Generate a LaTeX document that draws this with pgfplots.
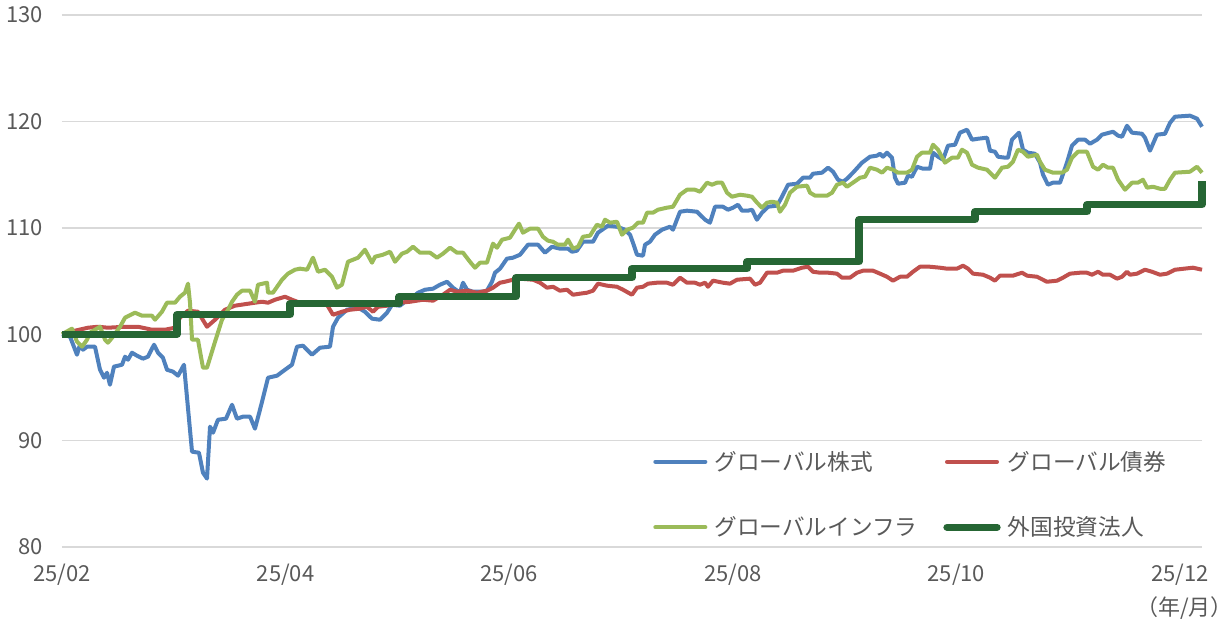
\documentclass[border=0pt]{standalone}
\usepackage{fontspec}
\setmainfont{Noto Sans CJK JP}
\usepackage{pgfplots}
\pgfplotsset{compat=1.18}
\definecolor{cBlue}{RGB}{79,129,189}
\definecolor{cRed}{RGB}{192,80,77}
\definecolor{cLGreen}{RGB}{155,187,89}
\definecolor{cDGreen}{RGB}{38,102,52}
\definecolor{cGrid}{RGB}{217,217,217}
\definecolor{cText}{RGB}{89,89,89}
\newcommand\tickfont{\fontsize{16.5}{19}\selectfont}
\newcommand\legfont{\fontsize{17}{20}\selectfont}
\begin{document}
\begin{tikzpicture}
\useasboundingbox (0,0) rectangle (924pt,468.75pt);
\begin{axis}[
  at={(46.5pt,58.5pt)}, anchor=south west,
  scale only axis, width=855pt, height=399pt,
  xmin=0, xmax=10.197, ymin=80, ymax=130,
  ytick={80,90,100,110,120,130},
  xtick={0,2,4,6,8,10},
  xticklabels={25/02,25/04,25/06,25/08,25/10,25/12},
  ymajorgrids, major grid style={cGrid, line width=1.1pt},
  axis line style={draw=none}, major tick length=0pt,
  tick label style={font=\tickfont, text=cText},
  yticklabel style={anchor=east, inner sep=0pt, xshift=-14.25pt},
  xticklabel style={anchor=center, inner sep=0pt, yshift=-21pt},
  /pgf/number format/assume math mode=true,
  clip=false,
  legend columns=2,
  legend style={at={(axis description cs:0.5185,0.0987)}, anchor=west,
    draw=none, fill=none, inner sep=0pt,
    nodes={inner sep=0pt, anchor=west, font=\legfont, text=cText},
    row sep=33.25pt, column sep=0pt},
  legend image code/.code={\draw[#1, line cap=round] (0pt,0pt) -- (37.5pt,0pt);},
]
\addplot[cBlue, line width=3pt, line join=round] coordinates {
(0,100) (0.072,99.77) (0.134,98.07) (0.161,99.01) (0.188,98.54) (0.224,98.83) (0.295,98.83)
(0.340,96.66) (0.376,95.91) (0.403,96.38) (0.429,95.25) (0.465,96.95) (0.537,97.13) (0.564,97.89)
(0.590,97.60) (0.626,98.26) (0.671,97.98) (0.725,97.70) (0.769,97.89) (0.823,99.01) (0.859,98.26)
(0.903,97.79) (0.939,96.66) (0.993,96.48) (1.038,96.10) (1.091,97.13) (1.163,88.96) (1.225,88.86)
(1.261,86.98) (1.297,86.43) (1.324,91.31) (1.351,90.74) (1.395,91.96) (1.467,92.06) (1.521,93.37)
(1.565,92.06) (1.619,92.25) (1.682,92.25) (1.726,91.12) (1.771,92.90) (1.843,95.91) (1.923,96.10)
(1.995,96.66) (2.057,97.13) (2.102,98.83) (2.156,98.92) (2.236,98.07) (2.308,98.73) (2.397,98.83)
(2.424,100.70) (2.469,101.55) (2.549,102.30) (2.648,102.49) (2.710,102.11) (2.773,101.46) (2.844,101.36)
(2.907,102.02) (2.952,102.77) (3.023,102.68) (3.068,103.05) (3.131,103.43) (3.185,103.90) (3.247,104.18)
(3.319,104.28) (3.381,104.65) (3.444,104.93) (3.497,104.37) (3.560,103.90) (3.587,104.84) (3.623,104.18)
(3.676,103.99) (3.757,103.99) (3.801,104.09) (3.846,104.93) (3.873,105.78) (3.918,106.16) (3.980,107.10)
(4.034,107.19) (4.097,107.47) (4.168,108.41) (4.258,108.41) (4.320,107.66) (4.383,108.22) (4.454,108.04)
(4.526,108.04) (4.562,107.75) (4.606,107.85) (4.660,108.69) (4.750,108.69) (4.794,109.54) (4.884,110.20)
(4.964,110.10) (5.036,109.82) (5.081,109.35) (5.107,108.60) (5.143,107.47) (5.197,107.38) (5.215,108.41)
(5.259,108.69) (5.304,109.35) (5.367,109.82) (5.438,110.10) (5.465,109.82) (5.528,111.51) (5.590,111.61)
(5.680,111.51) (5.752,110.76) (5.796,110.48) (5.841,111.98) (5.912,111.98) (5.957,111.70) (6.002,111.89)
(6.047,112.17) (6.082,111.61) (6.136,111.61) (6.172,111.70) (6.216,110.76) (6.261,111.42) (6.315,111.98)
(6.396,112.08) (6.440,112.92) (6.494,114.05) (6.574,114.14) (6.628,114.71) (6.691,114.71) (6.717,115.08)
(6.798,115.18) (6.852,115.65) (6.897,115.27) (6.941,114.52) (6.986,114.33) (7.021,114.61) (7.075,115.18)
(7.156,116.12) (7.227,116.68) (7.290,116.78) (7.317,116.96) (7.344,116.68) (7.379,117.06) (7.424,116.59)
(7.451,114.71) (7.478,114.14) (7.541,114.24) (7.567,114.90) (7.603,114.80) (7.648,115.74) (7.702,115.55)
(7.764,115.55) (7.791,117.06) (7.836,116.68) (7.880,116.40) (7.925,117.72) (7.988,117.81) (8.032,118.94)
(8.095,119.22) (8.140,118.28) (8.194,118.37) (8.274,118.47) (8.301,117.25) (8.345,117.15) (8.372,116.68)
(8.435,116.59) (8.462,116.59) (8.497,118.28) (8.560,118.94) (8.596,117.34) (8.640,117.06) (8.703,116.96)
(8.748,116.12) (8.775,114.99) (8.819,114.05) (8.864,114.24) (8.927,114.24) (8.989,116.12) (9.034,117.72)
(9.088,118.28) (9.151,118.28) (9.195,117.90) (9.258,118.28) (9.302,118.75) (9.401,119.03) (9.446,118.66)
(9.482,118.56) (9.526,119.59) (9.571,118.94) (9.660,118.84) (9.687,118.47) (9.732,117.25) (9.794,118.75)
(9.866,118.84) (9.911,119.87) (9.955,120.44) (10.089,120.54) (10.152,120.26) (10.197,119.50)
};
\addlegendentry{\makebox[177pt][l]{\hspace{5.25pt}グローバル株式}}
\addplot[cRed, line width=3pt, line join=round] coordinates {
(0,100) (0.116,100.33) (0.233,100.61) (0.322,100.70) (0.411,100.61) (0.564,100.70) (0.680,100.70)
(0.805,100.42) (0.921,100.42) (1.011,100.61) (1.055,101.55) (1.127,102.21) (1.216,102.11) (1.297,100.70)
(1.369,101.36) (1.458,102.30) (1.547,102.68) (1.726,102.96) (1.789,103.05) (1.843,102.96) (1.905,103.24)
(1.995,103.52) (2.057,103.24) (2.174,102.77) (2.245,102.96) (2.308,102.96) (2.370,102.77) (2.424,101.83)
(2.504,102.11) (2.576,102.30) (2.666,102.40) (2.728,102.58) (2.782,102.11) (2.827,102.58) (2.907,102.68)
(3.023,102.96) (3.113,103.05) (3.229,103.24) (3.319,103.15) (3.408,103.71) (3.471,104.18) (3.533,103.99)
(3.623,104.09) (3.712,103.90) (3.801,104.09) (3.855,104.37) (3.918,104.84) (3.962,104.93) (4.034,105.12)
(4.097,105.22) (4.213,105.12) (4.276,104.84) (4.338,104.37) (4.392,104.46) (4.454,104.09) (4.517,104.18)
(4.571,103.71) (4.633,103.81) (4.696,103.90) (4.750,104.09) (4.794,104.75) (4.875,104.56) (4.964,104.46)
(5.018,104.18) (5.098,103.71) (5.143,104.37) (5.197,104.46) (5.242,104.75) (5.322,104.84) (5.411,104.84)
(5.465,104.65) (5.528,105.31) (5.590,104.84) (5.662,104.84) (5.707,104.65) (5.752,104.84) (5.778,104.46)
(5.823,105.03) (5.912,104.84) (5.975,104.75) (6.038,105.12) (6.154,105.22) (6.199,104.65) (6.244,104.84)
(6.306,105.78) (6.396,105.78) (6.449,105.97) (6.539,105.97) (6.619,106.25) (6.673,106.34) (6.717,105.87)
(6.780,105.78) (6.852,105.78) (6.932,105.69) (6.977,105.31) (7.048,105.31) (7.111,105.78) (7.165,105.97)
(7.254,105.97) (7.317,105.69) (7.379,105.40) (7.433,105.03) (7.496,105.40) (7.558,105.40) (7.612,105.87)
(7.674,106.34) (7.764,106.34) (7.853,106.25) (7.916,106.16) (8.005,106.16) (8.059,106.44) (8.104,106.16)
(8.149,105.69) (8.238,105.59) (8.301,105.31) (8.345,105.03) (8.390,105.50) (8.506,105.50) (8.587,105.78)
(8.632,105.50) (8.721,105.40) (8.810,104.93) (8.900,105.03) (8.953,105.31) (9.016,105.69) (9.106,105.78)
(9.168,105.78) (9.213,105.59) (9.267,105.87) (9.311,105.59) (9.374,105.59) (9.437,105.22) (9.481,105.40)
(9.526,105.87) (9.553,105.59) (9.616,105.69) (9.687,106.06) (9.750,105.87) (9.821,105.59) (9.884,105.69)
(9.955,106.06) (10.116,106.25) (10.197,106.06)
};
\addlegendentry{\hspace{5.25pt}グローバル債券}
\addplot[cLGreen, line width=3pt, line join=round] coordinates {
(0,100) (0.089,100.52) (0.134,99.30) (0.179,98.83) (0.224,99.48) (0.250,100.14) (0.295,100.42)
(0.340,100.70) (0.385,99.48) (0.411,99.20) (0.456,99.77) (0.519,100.70) (0.564,101.55) (0.653,102.02)
(0.716,101.74) (0.805,101.74) (0.832,101.36) (0.894,102.11) (0.939,102.96) (1.011,102.96) (1.055,103.52)
(1.100,103.90) (1.127,104.75) (1.145,102.96) (1.163,99.48) (1.216,99.48) (1.261,96.85) (1.297,96.85)
(1.369,99.30) (1.431,101.36) (1.485,102.30) (1.521,103.05) (1.565,103.71) (1.610,104.09) (1.682,104.09)
(1.726,103.05) (1.753,104.65) (1.834,104.84) (1.843,103.90) (1.887,103.90) (1.968,105.12) (2.021,105.69)
(2.084,106.06) (2.129,106.16) (2.192,106.06) (2.245,107.19) (2.290,105.87) (2.353,106.06) (2.415,105.40)
(2.460,104.37) (2.504,104.65) (2.558,106.81) (2.603,107.00) (2.648,107.19) (2.710,107.94) (2.773,106.72)
(2.800,107.28) (2.871,107.47) (2.934,107.75) (2.979,106.81) (3.041,107.57) (3.086,107.75) (3.140,108.22)
(3.202,107.66) (3.292,107.66) (3.354,107.19) (3.408,107.57) (3.471,108.13) (3.533,107.66) (3.587,107.66)
(3.649,106.81) (3.694,106.25) (3.739,106.72) (3.801,106.72) (3.855,108.51) (3.891,108.13) (3.936,108.88)
(4.007,109.07) (4.052,109.82) (4.088,110.39) (4.123,109.54) (4.186,109.92) (4.258,109.92) (4.302,109.16)
(4.347,108.79) (4.392,108.69) (4.436,108.41) (4.499,108.41) (4.526,108.88) (4.571,108.04) (4.616,108.22)
(4.660,109.16) (4.723,109.26) (4.785,110.29) (4.830,110.10) (4.857,110.76) (4.902,110.48) (4.964,110.57)
(5.009,109.35) (5.054,109.82) (5.107,110.01) (5.152,110.48) (5.197,110.48) (5.233,111.42) (5.286,111.42)
(5.331,111.70) (5.411,111.89) (5.465,111.98) (5.528,113.11) (5.590,113.58) (5.662,113.58) (5.707,113.39)
(5.770,114.24) (5.814,114.05) (5.859,114.24) (5.904,114.24) (5.948,113.30) (5.993,112.92) (6.065,113.11)
(6.127,113.02) (6.172,112.92) (6.217,112.36) (6.261,111.89) (6.306,112.36) (6.351,112.45) (6.396,112.36)
(6.422,111.51) (6.467,112.17) (6.512,113.30) (6.574,113.86) (6.664,113.96) (6.691,113.30) (6.736,113.02)
(6.843,113.02) (6.888,113.30) (6.932,114.05) (6.986,114.24) (7.021,113.86) (7.075,114.24) (7.138,114.71)
(7.183,114.80) (7.227,115.65) (7.290,115.46) (7.335,115.18) (7.379,115.65) (7.433,115.46) (7.478,115.18)
(7.558,115.18) (7.603,115.46) (7.648,116.68) (7.692,117.06) (7.764,117.06) (7.791,117.81) (7.836,117.34)
(7.898,116.12) (7.961,116.59) (8.014,116.59) (8.050,117.34) (8.095,117.06) (8.140,115.93) (8.194,115.65)
(8.274,115.46) (8.345,114.71) (8.408,115.65) (8.462,115.74) (8.506,116.21) (8.551,117.34) (8.596,117.15)
(8.640,116.68) (8.721,116.87) (8.748,116.21) (8.792,115.46) (8.864,115.18) (8.945,115.18) (8.989,115.46)
(9.034,116.59) (9.088,117.15) (9.168,117.15) (9.222,115.74) (9.267,115.46) (9.311,115.93) (9.356,115.65)
(9.401,115.65) (9.446,114.52) (9.508,113.58) (9.571,114.24) (9.624,114.24) (9.669,114.52) (9.705,113.77)
(9.759,113.86) (9.821,113.67) (9.866,113.67) (9.911,114.52) (9.955,115.18) (10.089,115.27) (10.152,115.74)
(10.197,115.18)
};
\addlegendentry{\makebox[177pt][l]{\hspace{5.25pt}グローバルインフラ}}
\addplot[cDGreen, line width=5.5pt, const plot, line join=round] coordinates {
(0,100) (1.029,101.83) (2.039,102.87) (3.014,103.52) (4.061,105.31) (5.098,106.16)
(6.127,106.81) (7.129,110.76) (8.167,111.51) (9.168,112.17) (10.197,114.43)
};
\addlegendentry{\hspace{5.25pt}外国投資法人}
\end{axis}
\node[anchor=east, font=\tickfont, text=cText, inner sep=0pt] at (924.75pt,12.75pt) {（年/月）};
\end{tikzpicture}
\end{document}
